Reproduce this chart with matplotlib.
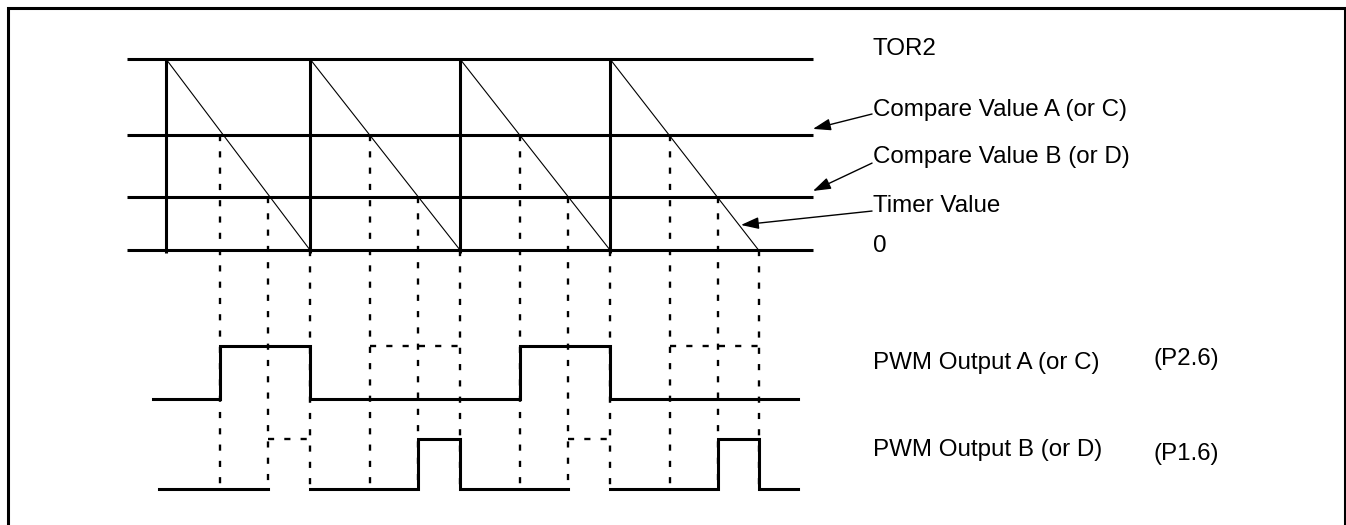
import matplotlib
matplotlib.use("Agg")
import matplotlib.pyplot as plt

# ---- data (time units along x, timer counts along y) ----
ramp_start = [0, 96, 196, 296]
ramp_end = [96, 196, 296, 395]
cross_A = [36, 136, 236, 336]      # timer reaches compare value A
cross_B = [68, 168, 268, 368]      # timer reaches compare value B
pwmA_solid = [True, False, True, False]
pwmB_solid = [False, True, False, True]

TOR2 = 100
CMP_A = 60
CMP_B = 28
ZERO = 0
pwmA_low, pwmA_high = -78, -50
pwmB_low, pwmB_high = -125, -99

level_x = (-26, 431)
pwmA_x = (-9, 421)
pwmB_x = (-5, 421)

level_labels = ["TOR2", "Compare Value A (or C)", "Compare Value B (or D)", "Timer Value", "0"]
level_label_y = [102, 70, 45.5, 20, -1]
pwm_labels = ["PWM Output A (or C)", "PWM Output B (or D)"]
pwm_label_y = [-62.3, -107.9]
pin_labels = ["(P2.6)", "(P1.6)"]
pin_label_y = [-60.2, -109.9]
label_x = 471
pin_x = 658

# ---- figure ----
W, H = 1346, 525
fig = plt.figure(figsize=(W / 100, H / 100), dpi=100)
ax = fig.add_axes([0, 0, 1, 1])
sx = 1.5   # px per time unit
sy = 1.91  # px per count
x0_px, y0_px = 166, 250
ax.set_xlim(-x0_px / sx, (W - x0_px) / sx)
ax.set_ylim(-(H - y0_px) / sy, y0_px / sy)
ax.axis("off")

LW = 2.2
DLW = 1.7
dash = (0, (2.6, 4.3))
k = "black"

# level lines
for lv in [TOR2, CMP_A, CMP_B, ZERO]:
    ax.plot(level_x, [lv, lv], color=k, lw=LW, solid_capstyle="butt", zorder=3)

# period start verticals and ramps
for s, e in zip(ramp_start, ramp_end):
    ax.plot([s, s], [TOR2, ZERO - 1.6], color=k, lw=LW, solid_capstyle="butt", zorder=3)
    ax.plot([s, e], [TOR2, ZERO], color=k, lw=0.8, zorder=3)

# dashed verticals
for i in range(4):
    ax.plot([cross_A[i]] * 2, [CMP_A, pwmB_low], color=k, lw=DLW, ls=dash, zorder=2)
    ax.plot([cross_B[i]] * 2, [CMP_B, pwmB_low], color=k, lw=DLW, ls=dash, zorder=2)
    ax.plot([ramp_end[i]] * 2, [ZERO, pwmB_low], color=k, lw=DLW, ls=dash, zorder=2)

# PWM A (solid low line continuous)
xs, ys = [pwmA_x[0]], [pwmA_low]
for i in range(4):
    if pwmA_solid[i]:
        xs += [cross_A[i], cross_A[i], ramp_end[i], ramp_end[i]]
        ys += [pwmA_low, pwmA_high, pwmA_high, pwmA_low]
    else:
        ax.plot([cross_A[i], ramp_end[i]], [pwmA_high, pwmA_high], color=k, lw=DLW, ls=dash, zorder=2)
xs.append(pwmA_x[1]); ys.append(pwmA_low)
ax.plot(xs, ys, color=k, lw=LW, solid_joinstyle="miter", zorder=3)

# PWM B (low line interrupted during dashed pulses)
xs, ys = [pwmB_x[0]], [pwmB_low]
for i in range(4):
    if pwmB_solid[i]:
        xs += [cross_B[i], cross_B[i], ramp_end[i], ramp_end[i]]
        ys += [pwmB_low, pwmB_high, pwmB_high, pwmB_low]
    else:
        xs.append(cross_B[i]); ys.append(pwmB_low)
        ax.plot(xs, ys, color=k, lw=LW, solid_joinstyle="miter", zorder=3)
        ax.plot([cross_B[i], ramp_end[i]], [pwmB_high, pwmB_high], color=k, lw=DLW, ls=dash, zorder=2)
        xs, ys = [ramp_end[i]], [pwmB_low]
xs.append(pwmB_x[1]); ys.append(pwmB_low)
ax.plot(xs, ys, color=k, lw=LW, solid_joinstyle="miter", zorder=3)

# labels
font = dict(family=["Liberation Sans", "DejaVu Sans"], fontsize=17.4, va="baseline", ha="left")
for t, y in zip(level_labels, level_label_y):
    ax.text(label_x, y, t, **font)
for t, y in zip(pwm_labels, pwm_label_y):
    ax.text(label_x, y, t, **font)
for t, y in zip(pin_labels, pin_label_y):
    ax.text(pin_x, y, t, **font)

# arrows
arrow_from = [(470.7, 71.2), (470.7, 45.5), (470.7, 20.4)]
arrow_to = [(431.3, 63.4), (431.3, 30.9), (383.3, 13.1)]
for (fx, fy), (tx, ty) in zip(arrow_from, arrow_to):
    ax.annotate("", xy=(tx, ty), xytext=(fx, fy),
                arrowprops=dict(arrowstyle="-|>,head_length=0.6,head_width=0.2",
                                mutation_scale=18, lw=1.0, color=k,
                                shrinkA=0, shrinkB=0), zorder=4)

# frame
fig.add_artist(plt.Line2D([8, 8, 1344.5, 1344.5], [0, H - 8, H - 8, 0],
                          transform=None, color=k, lw=2.2, solid_joinstyle="miter"))

fig.savefig("out.png", dpi=100)
